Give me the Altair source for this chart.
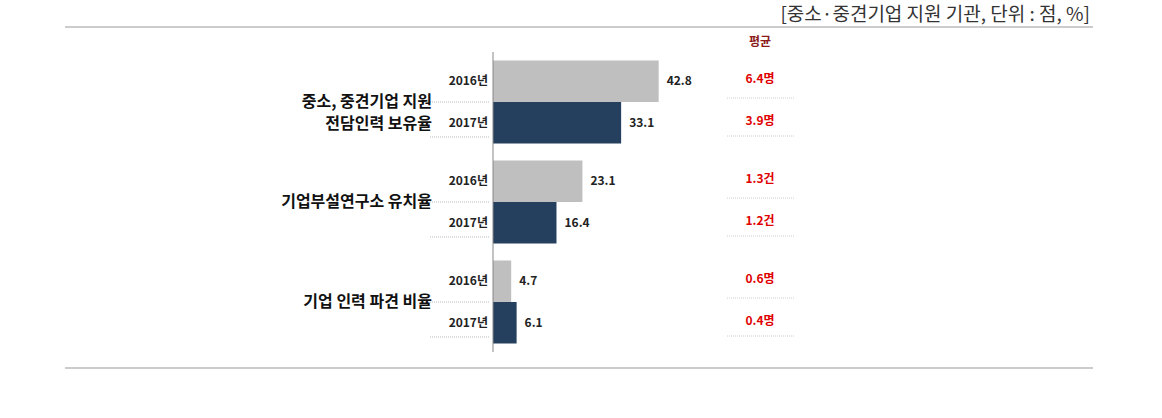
import altair as alt
import pandas as pd

groups = ["중소, 중견기업 지원\n전담인력 보유율", "기업부설연구소 유치율", "기업 인력 파견 비율"]
years = ["2016년", "2017년"]
values_2016 = [42.8, 23.1, 4.7]
values_2017 = [33.1, 16.4, 6.1]
avg_2016 = ["6.4명", "1.3건", "0.6명"]
avg_2017 = ["3.9명", "1.2건", "0.4명"]
title_text = "[중소·중견기업 지원 기관, 단위 : 점, %]"
avg_header = "평균"

rows = []
for i, g in enumerate(groups):
    rows.append({"group": g, "year": years[0], "value": values_2016[i], "avg": avg_2016[i]})
    rows.append({"group": g, "year": years[1], "value": values_2017[i], "avg": avg_2017[i]})
df = pd.DataFrame(rows)
df["label"] = df["value"].map(lambda v: f"{v:.1f}")
gdf = pd.DataFrame({"group": groups})

FONT = "Noto Sans CJK KR"

yscale = alt.Scale(domain=groups, paddingInner=0.17, paddingOuter=0.085)
yoff = alt.YOffset("year:N", scale=alt.Scale(domain=years, paddingInner=0, paddingOuter=0))
Y = alt.Y("group:N", scale=yscale, axis=None, sort=groups)
xscale = alt.Scale(domain=[0, 155], nice=False, zero=True)

base = alt.Chart(df)

bars = base.mark_bar().encode(
    x=alt.X("value:Q", scale=xscale, axis=None),
    y=Y,
    yOffset=yoff,
    color=alt.Color("year:N", scale=alt.Scale(domain=years, range=["#bfbfbf", "#253f5e"]), legend=None),
)

val_labels = base.mark_text(align="left", baseline="middle", dx=8, font=FONT,
                            fontSize=12, fontWeight="bold", color="#222").encode(
    x=alt.X("value:Q", scale=xscale), y=Y, yOffset=yoff, text="label:N")

year_labels = base.mark_text(align="right", baseline="middle", font=FONT,
                             fontSize=12, fontWeight="bold", color="#222").encode(
    x=alt.value(-5), y=Y, yOffset=yoff, text="year:N")

avg_labels = base.mark_text(align="center", baseline="middle", font=FONT, dy=-2,
                            fontSize=12, fontWeight="bold", color="#e00000").encode(
    x=alt.value(267), y=Y, yOffset=yoff, text="avg:N")


def dots(year, x0, x1, off, color):
    return base.transform_filter(alt.datum.year == year).mark_rule(
        strokeDash=[1, 1], color=color, strokeWidth=1, yOffset=off
    ).encode(x=alt.value(x0), x2=alt.value(x1), y=Y)


left_dots_a = dots(years[0], -63, -3, 0, "#bbbbbb")
left_dots_b = dots(years[1], -63, -3, 35, "#bbbbbb")
right_dots_a = dots(years[0], 234, 302, -4, "#cccccc")
right_dots_b = dots(years[1], 234, 302, 34, "#cccccc")

group_labels = alt.Chart(gdf).mark_text(align="right", baseline="middle", font=FONT,
                                        fontSize=16, fontWeight="bold", color="#111",
                                        lineBreak="\n", lineHeight=22).encode(
    x=alt.value(-61), y=Y, text="group:N")

one = pd.DataFrame({"v": [0]})
axis_line = alt.Chart(one).mark_rule(color="#888888", strokeWidth=1).encode(
    x=alt.X("v:Q", scale=xscale))

top_line = alt.Chart(one).mark_rule(color="#999999", strokeWidth=1.2).encode(
    x=alt.value(-428), x2=alt.value(600), y=alt.value(-25))
bottom_line = alt.Chart(one).mark_rule(color="#999999", strokeWidth=1.2).encode(
    x=alt.value(-428), x2=alt.value(600), y=alt.value(316))

header = alt.Chart(one).mark_text(align="center", baseline="middle", font=FONT,
                                  fontSize=12, fontWeight="bold", color="#8b1a1a").encode(
    x=alt.value(267), y=alt.value(-10), text=alt.value(avg_header))

title = alt.Chart(one).mark_text(align="right", baseline="middle", font=FONT,
                                 fontSize=19, color="#333333").encode(
    x=alt.value(597), y=alt.value(-37), text=alt.value(title_text))

chart = alt.layer(
    top_line, bottom_line, bars, axis_line,
    left_dots_a, left_dots_b, right_dots_a, right_dots_b,
    val_labels, year_labels, avg_labels, group_labels, header, title
).properties(
    width=600, height=300,
    autosize=alt.AutoSizeParams(type="none"),
    padding={"left": 493, "top": 52, "right": 69, "bottom": 66},
).configure(background="white").configure_view(stroke=None, strokeWidth=0)

chart.save("out.html", embed_options={"renderer": "svg", "actions": False})
